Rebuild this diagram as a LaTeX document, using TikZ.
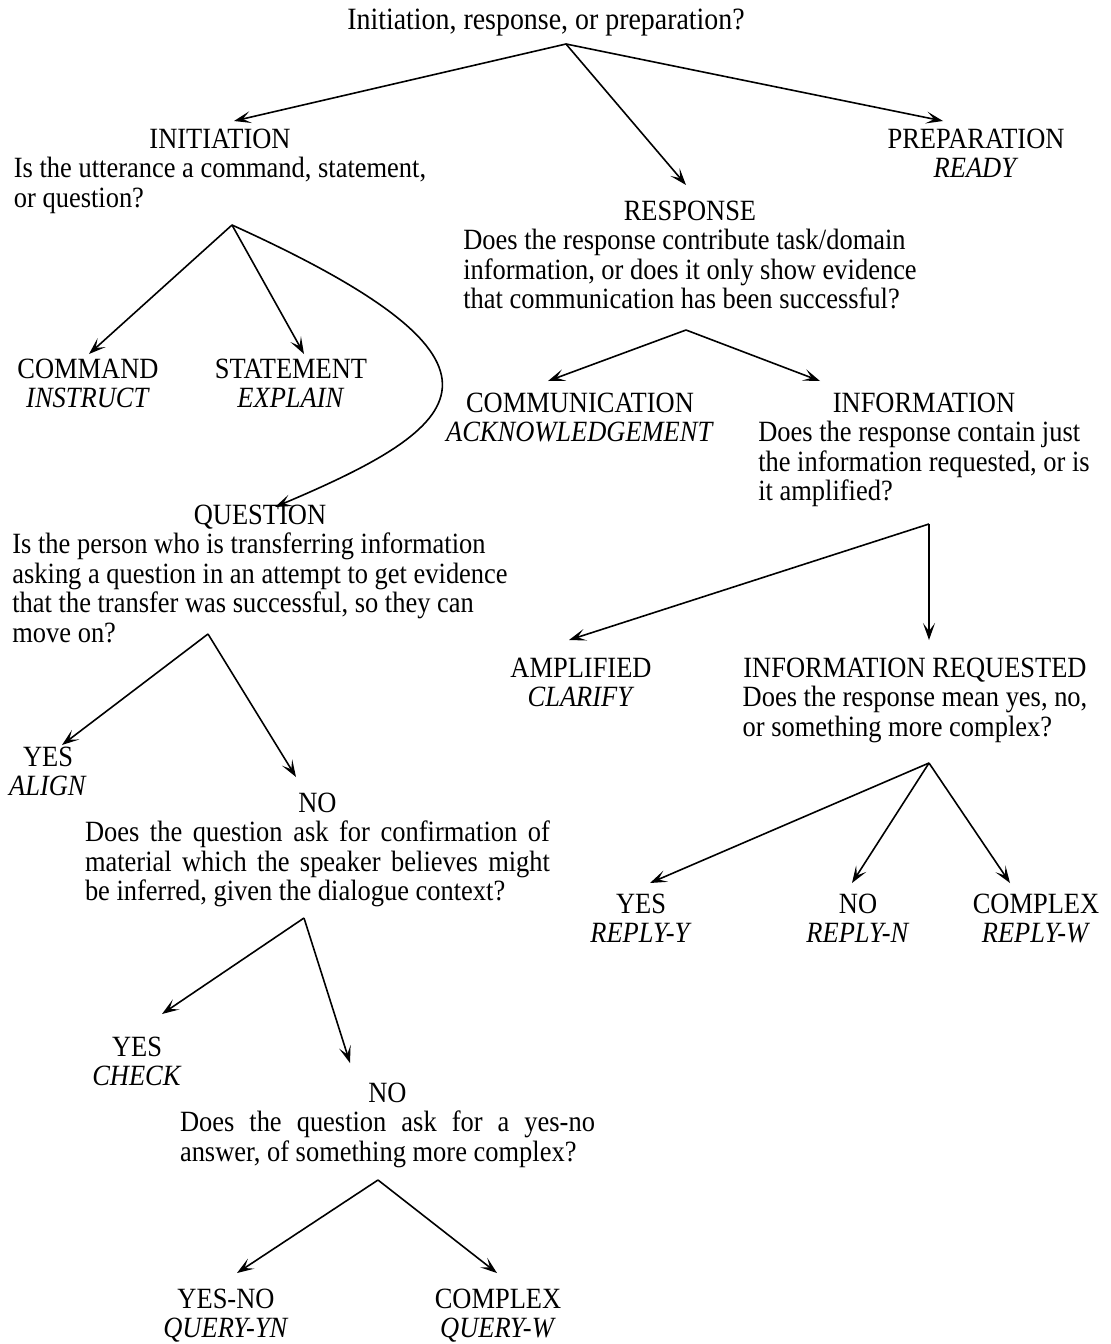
\documentclass[tikz,border=0pt]{standalone}
\usepackage{fontspec}
\setmainfont[FakeStretch=0.9]{Liberation Serif}
\usetikzlibrary{arrows.meta}
\hbadness=10000
\newcommand\leafbox[2]{\begin{tabular}[t]{@{}c@{}}#1\\\textit{#2}\end{tabular}}
\newcommand\askbox[2]{\begin{tabular}[t]{@{}l@{}}\multicolumn{1}{@{}c@{}}{#1}\\#2\end{tabular}}
\newcommand\justbox[3]{\parbox[t]{#1}{{\centering #2\par}#3}}
\begin{document}
\begin{tikzpicture}[x=1pt,y=-1pt,
  every node/.style={inner sep=0pt, anchor=base,
    font=\fontsize{29.4}{29.5}\selectfont},
  arr/.style={line width=1.6pt,
    -{Stealth[length=17pt,width=12pt,inset=8pt]}}]
\useasboundingbox (0,0) rectangle (1111,1344);

% ---- text blocks ----
\node[font=\fontsize{31}{30}\selectfont] (root) at (546,29) {Initiation, response, or preparation?};

\node (init) at (220,148) {\askbox{INITIATION}{Is the utterance a command, statement,\\or question?}};
\node (prep) at (976,148) {\leafbox{PREPARATION}{READY}};
\node (resp) at (690,220) {\askbox{RESPONSE}{Does the response contribute task/domain\\information, or does it only show evidence\\that communication has been successful?}};

\node (cmd)  at (88,378)  {\leafbox{COMMAND}{INSTRUCT}};
\node (stmt) at (291,378) {\leafbox{STATEMENT}{EXPLAIN}};
\node (comm) at (580,412) {\leafbox{COMMUNICATION}{ACKNOWLEDGEMENT}};
\node (info) at (924,412) {\askbox{INFORMATION}{Does the response contain just\\the information requested, or is\\it amplified?}};

\node (ques) at (260,524) {\askbox{QUESTION}{Is the person who is transferring information\\asking a question in an attempt to get evidence\\that the transfer was successful, so they can\\move on?}};
\node (ampl) at (581,677) {\leafbox{AMPLIFIED}{CLARIFY}};
\node (ireq) at (915,677) {\askbox{INFORMATION REQUESTED}{Does the response mean yes, no,\\or something more complex?}};

\node (align) at (48,766) {\leafbox{YES}{ALIGN}};
\node (noa) at (317.5,812) {\justbox{465pt}{NO}{Does the question ask for confirmation of\linebreak material which the speaker believes might\linebreak be inferred, given the dialogue context?}};

\node (ry) at (641,913)  {\leafbox{YES}{REPLY-Y}};
\node (rn) at (858,913)  {\leafbox{NO}{REPLY-N}};
\node (rw) at (1036,913) {\leafbox{COMPLEX}{REPLY-W}};

\node (check) at (137,1056) {\leafbox{YES}{CHECK}};
\node (nob) at (387.5,1102) {\justbox{415pt}{NO}{Does the question ask for a yes-no\linebreak answer, of something more complex?}};

\node (qyn) at (226,1308) {\leafbox{YES-NO}{QUERY-YN}};
\node (qw)  at (498,1308) {\leafbox{COMPLEX}{QUERY-W}};

% ---- branch points under each question ----
\coordinate (root-s) at (566,44);
\coordinate (init-s) at (232,225);
\coordinate (resp-s) at (686,330);
\coordinate (info-s) at (929,524);
\coordinate (ques-s) at (208,634);
\coordinate (ireq-s) at (929,763);
\coordinate (noa-s)  at (304,918);
\coordinate (nob-s)  at (378,1180);

% ---- arrow ends above each answer ----
\coordinate (init-n)  at (234,121);
\coordinate (resp-n)  at (686,185);
\coordinate (prep-n)  at (943,121);
\coordinate (cmd-n)   at (89,354);
\coordinate (stmt-n)  at (304,354);
\coordinate (ques-n)  at (275,507);
\coordinate (comm-n)  at (548,381);
\coordinate (info-n)  at (820,381);
\coordinate (ampl-n)  at (569,640);
\coordinate (ireq-n)  at (929,640);
\coordinate (align-n) at (62,745);
\coordinate (noa-n)   at (296,777);
\coordinate (ry-n)    at (650,883);
\coordinate (rn-n)    at (852,883);
\coordinate (rw-n)    at (1010,883);
\coordinate (check-n) at (162,1014);
\coordinate (nob-n)   at (350,1063);
\coordinate (qyn-n)   at (237,1273);
\coordinate (qw-n)    at (497,1273);

% ---- connectors ----
\draw[arr] (root-s) -- (init-n);
\draw[arr] (root-s) -- (resp-n);
\draw[arr] (root-s) -- (prep-n);

\draw[arr] (init-s) -- (cmd-n);
\draw[arr] (init-s) -- (stmt-n);
\draw[arr] (init-s) .. controls (541,365) and (467,426) .. (ques-n);

\draw[arr] (resp-s) -- (comm-n);
\draw[arr] (resp-s) -- (info-n);

\draw[arr] (info-s) -- (ampl-n);
\draw[arr] (info-s) -- (ireq-n);

\draw[arr] (ques-s) -- (align-n);
\draw[arr] (ques-s) -- (noa-n);

\draw[arr] (ireq-s) -- (ry-n);
\draw[arr] (ireq-s) -- (rn-n);
\draw[arr] (ireq-s) -- (rw-n);

\draw[arr] (noa-s) -- (check-n);
\draw[arr] (noa-s) -- (nob-n);

\draw[arr] (nob-s) -- (qyn-n);
\draw[arr] (nob-s) -- (qw-n);
\end{tikzpicture}
\end{document}
